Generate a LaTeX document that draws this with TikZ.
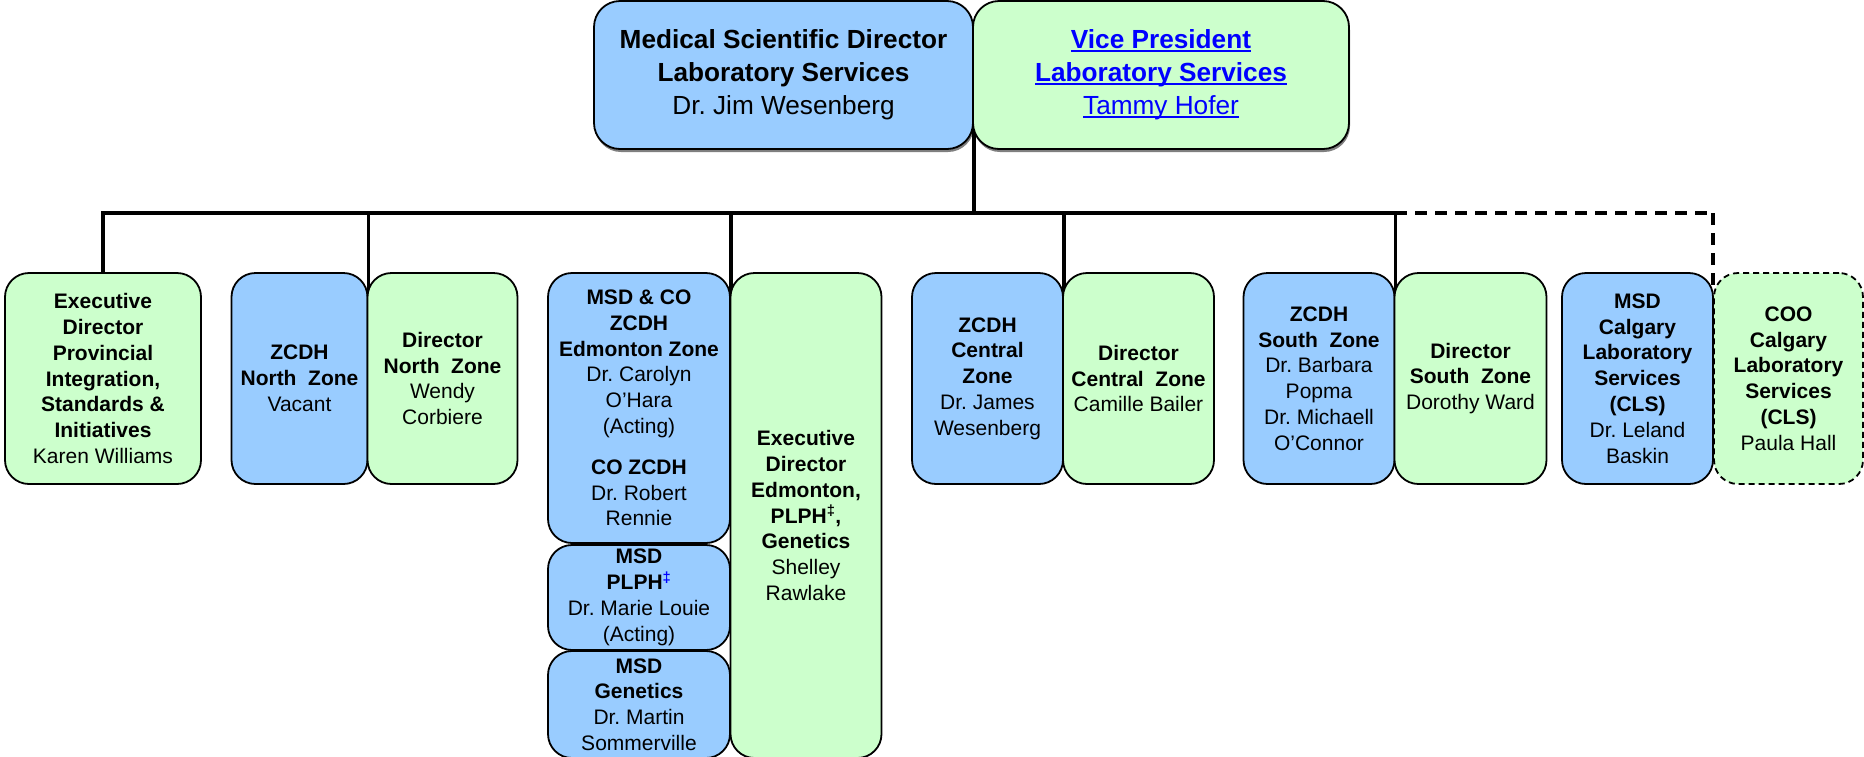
\documentclass[tikz,border=0pt]{standalone}
\usepackage{fontspec}
\setmainfont{Liberation Sans}
\usetikzlibrary{backgrounds,shadows}
\definecolor{bluebox}{HTML}{99CCFF}
\definecolor{greenbox}{HTML}{CCFFCC}
\definecolor{linkblue}{HTML}{0000FF}
\newcommand\lnk[1]{\leavevmode\setbox0\hbox{#1}\rlap{\rule[-0.12em]{\wd0}{0.075em}}\box0}
\AtBeginDocument{\frenchspacing}
\begin{document}
\begin{tikzpicture}[x=1pt,y=-1pt,
  orgbox/.style={draw=black, line width=1.8pt, rounded corners=24pt, inner sep=0pt,
    align=center, font=\fontsize{21}{25.8}\selectfont},
  bluebx/.style={orgbox, fill=bluebox},
  greenbx/.style={orgbox, fill=greenbox},
  dashbx/.style={greenbx, dash pattern=on 6pt off 4pt},
  topbox/.style={draw=black, line width=1.8pt, rounded corners=26pt, inner sep=0pt,
    align=center, font=\fontsize{26.2}{32.8}\selectfont,
    drop shadow={shadow xshift=1pt, shadow yshift=-3pt, fill=black, opacity=0.5}},
  sz/.style n args={2}{minimum width=#1pt, minimum height=#2pt},
  wire/.style={line width=3.3pt},
  buswire/.style={line width=3.8pt, line cap=rect},
  dotwire/.style={line width=3.8pt, dash pattern=on 12pt off 8pt},
  dotdrop/.style={line width=3.3pt, dash pattern=on 12pt off 8pt}
]
\useasboundingbox (0,0) rectangle (1864,756);
\begin{scope}
\clip (0,0) rectangle (1864,756);
% top
\node[topbox, fill=bluebox, sz={379}{148}] (msd) at (783.5,75)
  {\textbf{Medical Scientific Director}\\\textbf{Laboratory Services}\\Dr. Jim Wesenberg};
\node[topbox, fill=greenbox, sz={376}{148}, text=linkblue] (vp) at (1161,75)
  {\textbf{\lnk{Vice President}}\\\textbf{\lnk{Laboratory Services}}\\\lnk{Tammy Hofer}};
% row
\node[greenbx, sz={196}{211}] (exec) at (103,378.5)
  {\textbf{Executive}\\\textbf{Director}\\\textbf{Provincial}\\\textbf{Integration,}\\\textbf{Standards \&}\\\textbf{Initiatives}\\Karen Williams};
\node[bluebx, sz={136}{211}] (zcdhN) at (299.5,378.5)
  {\textbf{ZCDH}\\\textbf{North\ \ Zone}\\Vacant};
\node[greenbx, sz={150}{211}] (dirN) at (442.5,378.5)
  {\textbf{Director}\\\textbf{North\ \ Zone}\\Wendy\\Corbiere};
\node[bluebx, sz={182}{270}] (edmA) at (639,408)
  {\textbf{MSD \& CO}\\\textbf{ZCDH}\\\textbf{Edmonton Zone}\\Dr. Carolyn\\O’Hara\\(Acting)\\[15pt]\textbf{CO ZCDH}\\Dr. Robert\\Rennie};
\node[bluebx, sz={182}{105}] (edmB) at (639,597.5)
  {\textbf{MSD}\\\textbf{PLPH\textsuperscript{\color{linkblue}‡}}\\Dr. Marie Louie\\(Acting)};
\node[bluebx, sz={182}{107}] (edmC) at (639,704.5)
  {\textbf{MSD}\\\textbf{Genetics}\\Dr. Martin\\Sommerville};
\node[greenbx, sz={151}{485}] (edmG) at (806,515.5)
  {\textbf{Executive}\\\textbf{Director}\\\textbf{Edmonton,}\\\textbf{PLPH\textsuperscript{‡},}\\\textbf{Genetics}\\Shelley\\Rawlake};
\node[bluebx, sz={151}{211}] (zcdhC) at (987.5,378.5)
  {\textbf{ZCDH}\\\textbf{Central}\\\textbf{Zone}\\Dr. James\\Wesenberg};
\node[greenbx, sz={151}{211}] (dirC) at (1138.5,378.5)
  {\textbf{Director}\\\textbf{Central\ \ Zone}\\Camille Bailer};
\node[bluebx, sz={151}{211}] (zcdhS) at (1319,378.5)
  {\textbf{ZCDH}\\\textbf{South\ \ Zone}\\Dr. Barbara\\Popma\\Dr. Michaell\\O’Connor};
\node[greenbx, sz={152}{211}] (dirS) at (1470.5,378.5)
  {\textbf{Director}\\\textbf{South\ \ Zone}\\Dorothy Ward};
\node[bluebx, sz={151}{211}] (msdC) at (1637.5,378.5)
  {\textbf{MSD}\\\textbf{Calgary}\\\textbf{Laboratory}\\\textbf{Services}\\\textbf{(CLS)}\\Dr. Leland\\Baskin};
\node[dashbx, sz={149}{211}] (cooC) at (1788.5,378.5)
  {\textbf{COO}\\\textbf{Calgary}\\\textbf{Laboratory}\\\textbf{Services}\\\textbf{(CLS)}\\Paula Hall};
\coordinate (bus) at (973,213);
% connectors
\begin{scope}[on background layer]
\draw[wire] ([yshift=20pt]msd.south east) -- (msd.south east |- bus);
\draw[buswire] (exec.north |- bus) -- (zcdhS.north east |- bus);
\draw[wire] (exec.north |- bus) -- (exec.north);
\draw[wire] (zcdhN.north east |- bus) -- ([yshift=-20pt]zcdhN.north east);
\draw[wire] (edmA.north east |- bus) -- ([yshift=-20pt]edmA.north east);
\draw[wire] (zcdhC.north east |- bus) -- ([yshift=-20pt]zcdhC.north east);
\draw[wire] (zcdhS.north east |- bus) -- ([yshift=-20pt]zcdhS.north east);
\draw[dotwire] (zcdhS.north east |- bus) -- (cooC.north west |- bus);
\draw[dotdrop] (cooC.north west |- bus) -- ([yshift=-14pt]cooC.north west);
\end{scope}
\end{scope}
\end{tikzpicture}
\end{document}
